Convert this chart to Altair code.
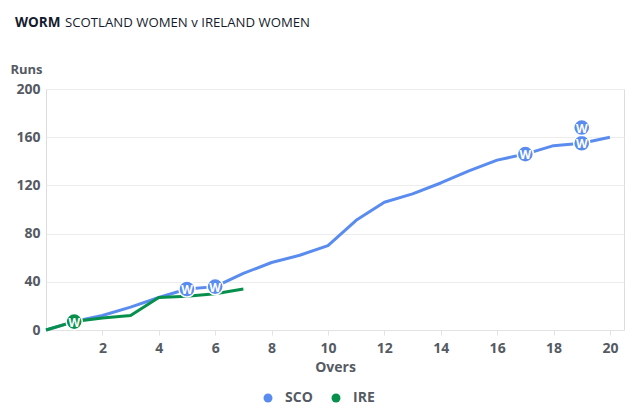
import altair as alt
import pandas as pd

# ---- data ----
sco_overs = list(range(0, 21))
sco_runs = [0, 7, 12, 19, 27, 34, 36, 47, 56, 62, 70, 91, 106, 113, 122, 132, 141, 146, 153, 155, 160]
ire_overs = list(range(0, 8))
ire_runs = [0, 7, 10, 12, 27, 28, 30, 34]

sco_wkt_overs = [5, 6, 17, 19, 19]
sco_wkt_runs = [34, 36, 146, 155, 168]
ire_wkt_overs = [1]
ire_wkt_runs = [7]

teams = ["SCO", "IRE"]
colors = ["#5a8cf0", "#07904c"]
x_ticks = [2, 4, 6, 8, 10, 12, 14, 16, 18, 20]
y_ticks = [0, 40, 80, 120, 160, 200]

FONT = "Open Sans"
GREY = "#555a63"

sco = pd.DataFrame({"over": sco_overs, "runs": sco_runs, "team": "SCO"})
ire = pd.DataFrame({"over": ire_overs, "runs": ire_runs, "team": "IRE"})
lines_df = pd.concat([sco, ire], ignore_index=True)

wk = pd.concat([
    pd.DataFrame({"over": sco_wkt_overs, "runs": sco_wkt_runs, "team": "SCO"}),
    pd.DataFrame({"over": ire_wkt_overs, "runs": ire_wkt_runs, "team": "IRE"}),
], ignore_index=True)

xscale = alt.Scale(domain=[0, 20.5], nice=False, zero=False)
yscale = alt.Scale(domain=[0, 200], nice=False)
cscale = alt.Scale(domain=teams, range=colors)

x_enc = alt.X("over:Q", scale=xscale, axis=alt.Axis(
    values=x_ticks, title="Overs", grid=False,
    domainColor="#e3e3e3", tickColor="#e3e3e3", tickSize=5,
    labelFont=FONT, labelFontSize=14, labelFontWeight="bold", labelColor=GREY,
    labelPadding=6,
    titleFont=FONT, titleFontSize=14, titleFontWeight="bold", titleColor=GREY,
    titlePadding=5))
y_enc = alt.Y("runs:Q", scale=yscale, axis=alt.Axis(
    values=y_ticks, title="Runs", grid=True, gridColor="#ececec",
    domain=False, ticks=False,
    labelFont=FONT, labelFontSize=14, labelFontWeight="bold", labelColor=GREY,
    labelPadding=6,
    titleFont=FONT, titleFontSize=13, titleFontWeight="bold", titleColor=GREY,
    titleAngle=0, titleX=-20, titleY=-20, titleAlign="center", titleBaseline="middle"))

color_enc = alt.Color("team:N", scale=cscale, legend=alt.Legend(
    title=None, orient="none", direction="horizontal", legendX=215, legendY=302,
    symbolType="circle", symbolSize=80, symbolStrokeWidth=0,
    labelFont=FONT, labelFontSize=14, labelFontWeight="bold", labelColor=GREY,
    columnPadding=16, labelOffset=10))

lines = alt.Chart(lines_df).mark_line(strokeWidth=3, strokeJoin="round").encode(
    x=x_enc, y=y_enc, color=color_enc, detail="team:N", order="over:Q")

sco_line = lines.transform_filter(alt.datum.team == "SCO")
ire_line = lines.transform_filter(alt.datum.team == "IRE")

dots = alt.Chart(wk).mark_circle(size=260, opacity=1, stroke="white", strokeWidth=1.5).encode(
    x="over:Q", y="runs:Q", color=alt.Color("team:N", scale=cscale, legend=None))
wtext = alt.Chart(wk).mark_text(text="W", font=FONT, fontSize=12, fontWeight="bold",
                                color="white", baseline="middle", dy=1).encode(
    x="over:Q", y="runs:Q")

t1 = alt.Chart(pd.DataFrame({"t": ["WORM"]})).mark_text(
    font=FONT, fontSize=13.5, fontWeight="bold", color="#141b2d", align="left",
    baseline="middle").encode(text="t:N", x=alt.value(-31), y=alt.value(-66))
t2 = alt.Chart(pd.DataFrame({"t": ["SCOTLAND WOMEN v IRELAND WOMEN"]})).mark_text(
    font=FONT, fontSize=13.2, color="#141b2d", align="left",
    baseline="middle").encode(text="t:N", x=alt.value(19), y=alt.value(-66))

chart = alt.layer(sco_line, ire_line, dots, wtext, t1, t2).properties(
    width=578, height=241,
    padding={"left": 46, "top": 89, "right": 16, "bottom": 84},
    autosize=alt.AutoSizeParams(type="none"),
).configure_view(stroke=None).configure(background="white")

chart.save("out.html", embed_options={"renderer": "svg", "actions": False})
